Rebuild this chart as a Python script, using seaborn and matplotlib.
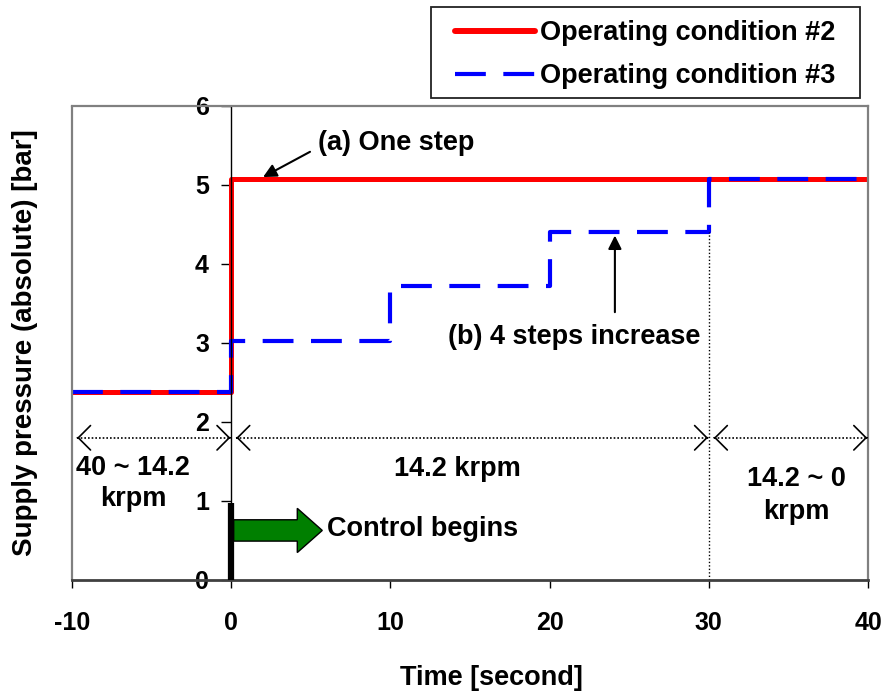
import matplotlib
matplotlib.use("Agg")
import matplotlib.pyplot as plt
from matplotlib.patches import FancyArrow, Rectangle
from matplotlib.lines import Line2D
import seaborn as sns
import pandas as pd

# Step profiles of supply pressure (bar, absolute) vs. time (s)
time_cond2 = [-10, 0, 40]
pressure_cond2 = [2.38, 5.08, 5.08]
time_cond3 = [-10, 0, 10, 20, 30, 40]
pressure_cond3 = [2.38, 3.03, 3.72, 4.40, 5.08, 5.08]

x_ticks = [-10, 0, 10, 20, 30, 40]
y_ticks = [0, 1, 2, 3, 4, 5, 6]

# Speed regions along the time axis
region_edges = [-10, 0, 30, 40]
region_labels = ["40 ~ 14.2\nkrpm", "14.2 krpm", "14.2 ~ 0\nkrpm"]

sns.set_theme(style="white")
plt.rcParams["font.family"] = ["Liberation Sans", "DejaVu Sans"]
plt.rcParams["font.weight"] = "bold"
plt.rcParams["axes.unicode_minus"] = False
for key in ("text.color", "axes.labelcolor", "xtick.color", "ytick.color"):
    plt.rcParams[key] = "black"

FS = 19.5
TICK_FS = 18

fig = plt.figure(figsize=(8.88, 6.94), dpi=100)
ax = fig.add_axes([0.0811, 0.1643, 0.8964, 0.6830])

df2 = pd.DataFrame({"t": time_cond2, "p": pressure_cond2})
df3 = pd.DataFrame({"t": time_cond3, "p": pressure_cond3})

sns.lineplot(data=df2, x="t", y="p", ax=ax, color="#ff0000", lw=3.6,
             drawstyle="steps-post", label="Operating condition #2",
             legend=False)
sns.lineplot(data=df3, x="t", y="p", ax=ax, color="#0000ff", lw=3.0,
             drawstyle="steps-post", label="Operating condition #3",
             legend=False, dashes=False)
ax.lines[1].set_dashes([7.4, 4.2])

ax.set_xlim(-10, 40)
ax.set_ylim(0, 6)
ax.set_xticks(x_ticks)
ax.set_yticks(y_ticks)

# y axis drawn at t = 0
ax.spines["left"].set_position(("data", 0))
ax.spines["left"].set_color("black")
ax.spines["left"].set_linewidth(1.0)
for s in ("top", "right"):
    ax.spines[s].set_color("#808080")
    ax.spines[s].set_linewidth(1.6)
ax.spines["bottom"].set_color("#404040")
ax.spines["bottom"].set_linewidth(2.0)
ax.add_line(Line2D([0, 0], [0, 1], transform=ax.transAxes,
                   color="#808080", lw=1.6, clip_on=False))

ax.tick_params(axis="y", direction="out", length=7, width=1, color="black",
               left=True, pad=9, labelsize=TICK_FS)
ax.tick_params(axis="x", direction="out", length=6, width=1, color="black",
               bottom=True, pad=16, labelsize=TICK_FS)
for lab in ax.get_xticklabels() + ax.get_yticklabels():
    lab.set_fontweight("bold")

ax.set_xlabel("Time [second]", fontsize=FS, fontweight="bold")
ax.xaxis.set_label_coords(0.527, -0.179)
ax.set_ylabel("Supply pressure (absolute) [bar]", fontsize=20,
              fontweight="bold")
ax.yaxis.set_label_coords(-0.043, 0.5)

# dotted marker at the end of the constant-speed interval
ax.plot([30, 30], [0, pressure_cond3[3]], color="black", lw=1.0,
        ls=(0, (1, 1.5)))

# double-headed region arrows: dotted shafts with open solid heads
head = dict(arrowstyle="->,head_length=0.4,head_width=0.4", lw=1.2,
            color="black", mutation_scale=22, shrinkA=0, shrinkB=0)
for a, b in zip(region_edges[:-1], region_edges[1:]):
    lo, hi = a + 0.32, b - 0.05
    ax.plot([lo, hi], [1.80, 1.80], color="black", lw=1.2, ls=(0, (1, 1.2)))
    ax.annotate("", xy=(lo, 1.80), xytext=(lo + 0.05, 1.80), arrowprops=head)
    ax.annotate("", xy=(hi, 1.80), xytext=(hi - 0.05, 1.80), arrowprops=head)

ax.text(-6.17, 1.22, region_labels[0], ha="center", va="center",
        fontsize=FS, fontweight="bold", linespacing=1.27)
ax.text(14.2, 1.40, region_labels[1], ha="center", va="center",
        fontsize=FS, fontweight="bold")
ax.text(35.5, 1.07, region_labels[2], ha="center", va="center",
        fontsize=FS, fontweight="bold", linespacing=1.36)

# annotations for the two profiles
ax.text(5.45, 5.53, "(a) One step", fontsize=FS, fontweight="bold",
        va="center", ha="left")
ax.annotate("", xy=(2.0, 5.10), xytext=(4.95, 5.42),
            arrowprops=dict(arrowstyle="-|>", color="black", lw=1.5,
                            mutation_scale=20, shrinkA=0, shrinkB=0))
ax.annotate("", xy=(24.1, 4.36), xytext=(24.1, 3.39),
            arrowprops=dict(arrowstyle="-|>", color="black", lw=1.5,
                            mutation_scale=20, shrinkA=0, shrinkB=0))
ax.text(13.62, 3.07, "(b) 4 steps increase", fontsize=FS, fontweight="bold",
        va="center", ha="left")

# control start marker and arrow
ax.plot([0, 0], [0, 0.97], color="black", lw=4.5, solid_capstyle="butt",
        clip_on=False, zorder=5)
ax.add_patch(FancyArrow(0.15, 0.627, 5.57, 0, width=0.27, head_width=0.56,
                        head_length=1.57, length_includes_head=True,
                        facecolor="#007f00", edgecolor="black", lw=1.0,
                        zorder=4))
ax.text(6.0, 0.65, "Control begins", fontsize=FS, fontweight="bold",
        va="center", ha="left")

# legend with a separately drawn frame
fig.patches.append(Rectangle((0.4854, 0.8588), 0.4831, 0.1311,
                             transform=fig.transFigure, fill=False,
                             edgecolor="#222222", lw=1.3))
leg = fig.legend(handles=ax.lines[:2], loc="upper left",
                 bbox_to_anchor=(0.5124, 0.971),
                 prop={"weight": "bold", "size": FS}, frameon=False,
                 handlelength=2.95, handletextpad=0.2, borderpad=0,
                 labelspacing=0.63, borderaxespad=0)
leg.legend_handles[0].set_solid_capstyle("round")
leg.legend_handles[0].set_linewidth(4.3)

fig.savefig("out.png", dpi=100, facecolor="white")
